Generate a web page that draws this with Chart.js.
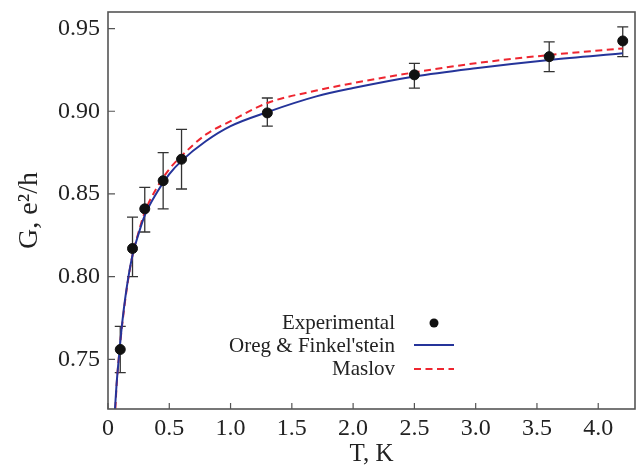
<!DOCTYPE html>
<html>
<head>
<meta charset="utf-8">
<script src="https://cdn.jsdelivr.net/npm/chart.js@4.4.1/dist/chart.umd.min.js"></script>
<style>
  body { margin: 0; background: #fff; }
  #wrap { width: 641px; height: 467px; }
</style>
</head>
<body>
<div id="wrap"><canvas id="myChart" width="641" height="467"></canvas></div>
<script>
// measured points with error bars
const expT = [0.1, 0.2, 0.3, 0.45, 0.6, 1.3, 2.5, 3.6, 4.2];
const expG = [0.756, 0.817, 0.841, 0.858, 0.871, 0.899, 0.922, 0.933, 0.9425];
const expHi = [0.770, 0.836, 0.854, 0.875, 0.889, 0.908, 0.929, 0.942, 0.951];
const expLo = [0.742, 0.800, 0.827, 0.841, 0.853, 0.891, 0.914, 0.924, 0.933];

// fit curves
const oregT = [0.057, 0.07, 0.09, 0.11, 0.15, 0.2, 0.25, 0.3, 0.4, 0.5, 0.6, 0.8, 1.0, 1.3, 1.7, 2.0, 2.5, 3.0, 3.6, 4.2];
const oregG = [0.720, 0.735, 0.752, 0.768, 0.792, 0.813, 0.826, 0.837, 0.851, 0.862, 0.870, 0.882, 0.891, 0.8995, 0.909, 0.914, 0.921, 0.926, 0.931, 0.935];

const maslovT = [0.06, 0.07, 0.1, 0.15, 0.2, 0.25, 0.3, 0.4, 0.5, 0.6, 0.8, 1.0, 1.3, 1.7, 2.0, 2.5, 3.0, 3.6, 4.2];
const maslovG = [0.720, 0.734, 0.760, 0.791, 0.813, 0.827, 0.839, 0.854, 0.865, 0.873, 0.886, 0.894, 0.905, 0.9125, 0.917, 0.9235, 0.929, 0.934, 0.938];

const xTicks = [0, 0.5, 1.0, 1.5, 2.0, 2.5, 3.0, 3.5, 4.0];
const yTicks = [0.75, 0.80, 0.85, 0.90, 0.95];

const serif = "'Liberation Serif', 'Times New Roman', serif";
const toXY = (xs, ys) => xs.map((x, i) => ({ x: x, y: ys[i] }));

const frame = {
  id: "frame",
  beforeDatasetsDraw(c) {
    const ctx = c.ctx;
    const xs = c.scales.x;
    const ys = c.scales.y;
    ctx.save();
    ctx.strokeStyle = "#333";
    ctx.lineWidth = 1.3;
    expT.forEach((t, i) => {
      const px = xs.getPixelForValue(t);
      const top = ys.getPixelForValue(expHi[i]);
      const bot = ys.getPixelForValue(expLo[i]);
      ctx.beginPath();
      ctx.moveTo(px, top);
      ctx.lineTo(px, bot);
      ctx.moveTo(px - 5.5, top);
      ctx.lineTo(px + 5.5, top);
      ctx.moveTo(px - 5.5, bot);
      ctx.lineTo(px + 5.5, bot);
      ctx.stroke();
    });
    ctx.restore();
  },
  afterDraw(c) {
    const ctx = c.ctx;
    const a = c.chartArea;
    const xs = c.scales.x;
    const ys = c.scales.y;
    ctx.save();
    ctx.strokeStyle = "#555";
    ctx.lineWidth = 1.6;
    ctx.strokeRect(a.left, a.top, a.right - a.left, a.bottom - a.top);
    ctx.lineWidth = 1.2;
    ctx.beginPath();
    xTicks.forEach((t) => {
      const px = xs.getPixelForValue(t);
      ctx.moveTo(px, a.bottom);
      ctx.lineTo(px, a.bottom - 6);
    });
    yTicks.forEach((v) => {
      const py = ys.getPixelForValue(v);
      ctx.moveTo(a.left, py);
      ctx.lineTo(a.left + 7, py);
    });
    ctx.stroke();

    // legend, text on the left of the symbol
    const ds = c.data.datasets;
    const textRight = 395;
    const symX = 434;
    const rows = [323, 346, 369];
    ctx.font = "21px " + serif;
    ctx.fillStyle = "#222";
    ctx.textAlign = "right";
    ctx.textBaseline = "middle";
    ds.forEach((d, i) => ctx.fillText(d.label, textRight, rows[i]));
    ctx.fillStyle = "#111";
    ctx.beginPath();
    ctx.arc(symX, rows[0], 4.5, 0, Math.PI * 2);
    ctx.fill();
    ctx.lineWidth = 2;
    ctx.strokeStyle = ds[1].borderColor;
    ctx.beginPath();
    ctx.moveTo(414, rows[1] - 1);
    ctx.lineTo(454, rows[1] - 1);
    ctx.stroke();
    ctx.strokeStyle = ds[2].borderColor;
    ctx.setLineDash([7, 4.5]);
    ctx.beginPath();
    ctx.moveTo(414, rows[2]);
    ctx.lineTo(454, rows[2]);
    ctx.stroke();
    ctx.restore();
  },
};

new Chart(document.getElementById("myChart"), {
  type: "scatter",
  data: {
    datasets: [
      {
        label: "Experimental",
        data: toXY(expT, expG),
        backgroundColor: "#111",
        borderColor: "#111",
        pointRadius: 5,
        showLine: false,
      },
      {
        label: "Oreg & Finkel'stein",
        data: toXY(oregT, oregG),
        borderColor: "#25349a",
        borderWidth: 2,
        pointRadius: 0,
        showLine: true,
        cubicInterpolationMode: "monotone",
      },
      {
        label: "Maslov",
        data: toXY(maslovT, maslovG),
        borderColor: "#ee2630",
        borderWidth: 2,
        borderDash: [7, 4.5],
        pointRadius: 0,
        showLine: true,
        cubicInterpolationMode: "monotone",
      },
    ],
  },
  options: {
    responsive: false,
    animation: false,
    layout: { padding: { left: 0, right: 5, top: 12, bottom: 0 } },
    plugins: {
      legend: { display: false },
      tooltip: { enabled: false },
    },
    scales: {
      x: {
        type: "linear",
        min: 0,
        max: 4.3,
        afterFit: (s) => { s.height = 58; s.paddingLeft = 0; s.paddingRight = 0; },
        afterBuildTicks: (s) => { s.ticks = xTicks.map((v) => ({ value: v })); },
        grid: { display: false, drawTicks: false },
        border: { display: false },
        ticks: {
          padding: 5,
          color: "#222",
          font: { family: serif, size: 24 },
          callback: (v) => (v === 0 ? "0" : v.toFixed(1)),
        },
        title: {
          display: true,
          text: "T, K",
          color: "#222",
          font: { family: serif, size: 25, lineHeight: 1 },
          padding: { top: 0, bottom: 0 },
        },
      },
      y: {
        type: "linear",
        min: 0.72,
        max: 0.96,
        afterFit: (s) => { s.width = 108; s.paddingTop = 0; s.paddingBottom = 0; },
        afterBuildTicks: (s) => { s.ticks = yTicks.map((v) => ({ value: v })); },
        grid: { display: false, drawTicks: false },
        border: { display: false },
        ticks: {
          padding: 8,
          color: "#222",
          font: { family: serif, size: 24 },
          callback: (v) => v.toFixed(2),
        },
        title: {
          display: true,
          text: "G, e²/h",
          color: "#222",
          font: { family: serif, size: 28, lineHeight: 1 },
          padding: { top: 16, bottom: 0 },
        },
      },
    },
  },
  plugins: [frame],
});
</script>
</body>
</html>
